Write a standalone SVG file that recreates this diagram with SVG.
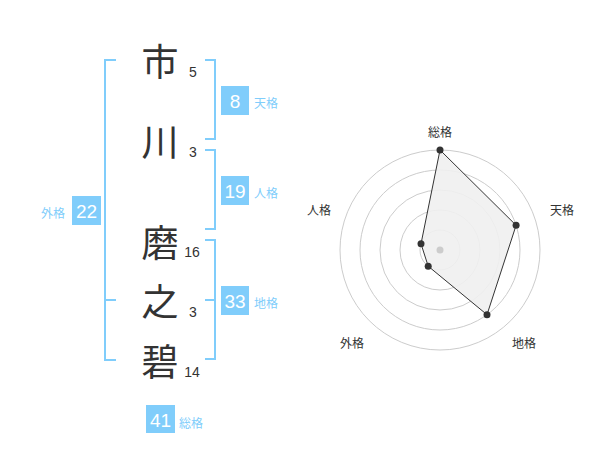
<svg xmlns="http://www.w3.org/2000/svg" width="600" height="470" viewBox="0 0 600 470">
<style>
.ch{font-family:"Noto Sans CJK JP","Noto Sans CJK SC",sans-serif;font-size:37px;fill:#333;text-anchor:middle;dominant-baseline:central}
.num{font-family:"Liberation Sans",Arial,sans-serif;font-size:14px;fill:#333;text-anchor:middle}
.br{fill:none;stroke:#80cdfb;stroke-width:2}
.box{fill:#80cdfb}
.bn{font-family:"Liberation Sans",Arial,sans-serif;font-size:19px;fill:#fff;text-anchor:middle;dominant-baseline:central}
.lb{font-family:"Noto Sans CJK JP","Noto Sans CJK SC",sans-serif;font-size:12px;fill:#80cdfb;dominant-baseline:central}
.rl{font-family:"Noto Sans CJK JP","Noto Sans CJK SC",sans-serif;font-size:12px;fill:#333;text-anchor:middle;dominant-baseline:central}
.ring{fill:none;stroke:#ccc;stroke-width:1}
.pt{fill:#333}
</style>
<rect width="600" height="470" fill="#fff"/>
<g id="chars">
<text class="ch" x="160" y="60">市</text>
<text class="ch" x="160" y="140">川</text>
<text class="ch" x="160" y="241">磨</text>
<text class="ch" x="160" y="300">之</text>
<text class="ch" x="160" y="360">碧</text>
<text class="num" x="193" y="77">5</text>
<text class="num" x="193" y="157">3</text>
<text class="num" x="192" y="257">16</text>
<text class="num" x="193" y="317">3</text>
<text class="num" x="192" y="377">14</text>
</g>
<g id="connectors">
<path class="br" d="M205,60H215V139H205"/>
<path class="br" d="M205,150H215V229H205"/>
<path class="br" d="M205,240H215V359H205M205,300H215"/>
<path class="br" d="M116,60H105V360H116M105,300H116"/>
</g>
<g id="tenkaku">
<rect class="box" x="221" y="86" width="28" height="29"/>
<text class="bn" x="235" y="101">8</text>
<text class="lb" x="254" y="102">天格</text>
</g>
<g id="jinkaku">
<rect class="box" x="221" y="176" width="28" height="29"/>
<text class="bn" x="235" y="191">19</text>
<text class="lb" x="254" y="192">人格</text>
</g>
<g id="chikaku">
<rect class="box" x="221" y="286" width="28" height="29"/>
<text class="bn" x="235" y="301">33</text>
<text class="lb" x="254" y="302">地格</text>
</g>
<g id="gaikaku">
<rect class="box" x="72" y="196" width="29" height="29"/>
<text class="bn" x="86.5" y="211">22</text>
<text class="lb" x="65" y="212" text-anchor="end">外格</text>
</g>
<g id="soukaku">
<rect class="box" x="146" y="405" width="29" height="28"/>
<text class="bn" x="160.5" y="420">41</text>
<text class="lb" x="179" y="422">総格</text>
</g>
<g id="radar">
<circle class="ring" cx="440" cy="250" r="20"/>
<circle class="ring" cx="440" cy="250" r="40"/>
<circle class="ring" cx="440" cy="250" r="60"/>
<circle class="ring" cx="440" cy="250" r="80"/>
<circle class="ring" cx="440" cy="250" r="100"/>
<polygon points="440,150 516.1,225.3 487,314.7 428.2,266.2 421,243.8" fill="#f0f0f0" fill-opacity="0.9" stroke="#333" stroke-width="1"/>
<circle cx="440" cy="250" r="3.5" fill="#ccc"/>
<circle class="pt" cx="440" cy="150" r="3.5"/>
<circle class="pt" cx="516.1" cy="225.3" r="3.5"/>
<circle class="pt" cx="487" cy="314.7" r="3.5"/>
<circle class="pt" cx="428.2" cy="266.2" r="3.5"/>
<circle class="pt" cx="421" cy="243.8" r="3.5"/>
<text class="rl" x="440" y="131">総格</text>
<text class="rl" x="562" y="209">天格</text>
<text class="rl" x="524" y="342">地格</text>
<text class="rl" x="352" y="342">外格</text>
<text class="rl" x="319" y="209">人格</text>
</g>
</svg>
